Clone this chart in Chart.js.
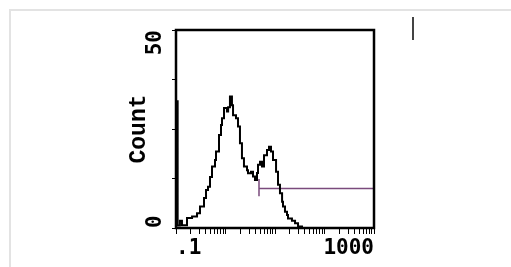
<!DOCTYPE html>
<html>
<head>
<meta charset="utf-8">
<script src="https://cdn.jsdelivr.net/npm/chart.js@4/dist/chart.umd.min.js"></script>
<style>
    body { margin: 0; background: #fff; }
    #wrap { position: relative; width: 511px; height: 267px; overflow: hidden; }
    #frame { position: absolute; left: 9px; top: 9px; width: 502px; height: 258px;
             border-left: 2px solid #e3e3e3; border-top: 2px solid #e3e3e3; }
    #cursor { position: absolute; left: 412px; top: 17px; width: 2px; height: 23px; background: #444; }
    #chart { position: absolute; left: 0; top: 0; }
</style>
</head>
<body>
<div id="wrap">
    <div id="frame"></div>
    <div id="cursor"></div>
    <canvas id="chart" width="511" height="267"></canvas>
</div>
<script>
// histogram bins: left edge of each bin (log intensity) and its count
const histX = [0.1, 0.108, 0.12, 0.132, 0.167, 0.211, 0.266, 0.305, 0.368, 0.404,
    0.443, 0.486, 0.534, 0.614, 0.643, 0.739, 0.811, 0.85, 0.933, 1.07,
    1.13, 1.23, 1.35, 1.42, 1.63, 1.79, 1.96, 2.15, 2.36, 2.72,
    2.85, 3.27, 3.59, 3.94, 4.33, 4.54, 4.98, 5.46, 6.0, 6.89,
    7.56, 8.3, 9.11, 10.5, 11.5, 12.6, 13.9, 14.5, 15.9, 17.5,
    18.3, 22.0, 25.4, 29.2, 35.1];
const histY = [32, 0.6, 1.8, 0.7, 2.5, 2.9, 3.7, 5.4, 7.6, 9.6,
    10.4, 12.9, 15.5, 17.2, 19.3, 23.5, 26, 27.7, 30.3, 29.4,
    30.5, 33.2, 31, 28.5, 27.7, 25.6, 21.4, 17.6, 15.5, 14.6,
    13.8, 14.2, 13, 12.1, 13.9, 16.0, 16.7, 15.5, 18.4, 19.7,
    20.5, 19.3, 17.2, 14.2, 10.9, 8.8, 6.6, 5.4, 4.1, 3.3,
    2.4, 1.8, 1.2, 0.4, 0];

// marker gate
const gateX = [4.75, 1000];
const gateLevel = 10;
const gateEnds = [12.4, 8];

// axes
const xMin = 0.1, xMax = 1000;
const yMin = 0, yMax = 50, yStep = 12.5;
const xDecades = [0.1, 1, 10, 100];
const xTickLabels = { 0.1: '.1', 1000: '1000' };
const yTickLabels = { 0: ' 0', 50: '50  ' };

const histData = histX.map((x, i) => ({ x: x, y: histY[i] }));
const gateData = [
    { x: gateX[0], y: gateEnds[0] }, { x: gateX[0], y: gateEnds[1] },
    { x: gateX[0], y: gateLevel }, { x: gateX[1], y: gateLevel },
    { x: gateX[1], y: gateEnds[0] }, { x: gateX[1], y: gateEnds[1] }
];

const frame = {
    id: 'frame',
    afterDatasetsDraw(chart) {
        const a = chart.chartArea, ctx = chart.ctx;
        ctx.save();
        ctx.strokeStyle = '#000';
        ctx.lineWidth = 2.5;
        ctx.strokeRect(a.left, a.top, a.right - a.left, a.bottom - a.top);
        ctx.restore();
    }
};

new Chart(document.getElementById('chart'), {
    type: 'line',
    data: {
        datasets: [{
            data: histData,
            borderColor: '#000',
            borderWidth: 2,
            stepped: true,
            pointRadius: 0,
            fill: false
        }, {
            data: gateData,
            borderColor: '#7a4a7c',
            borderWidth: 1.5,
            pointRadius: 0,
            fill: false
        }]
    },
    options: {
        responsive: false,
        animation: false,
        layout: { padding: { left: 120, top: 30, right: 137, bottom: 0 } },
        plugins: { legend: { display: false }, tooltip: { enabled: false } },
        scales: {
            x: {
                type: 'logarithmic',
                min: xMin,
                max: xMax,
                afterBuildTicks: scale => {
                    const t = [];
                    xDecades.forEach(d => { for (let k = 1; k < 10; k++) t.push({ value: +(d * k).toPrecision(3) }); });
                    t.push({ value: xMax });
                    scale.ticks = t;
                },
                afterFit: scale => { scale.height = 39; },
                border: { display: false },
                grid: { drawOnChartArea: false, drawTicks: true, tickLength: 6, tickColor: '#000', tickWidth: 1 },
                ticks: {
                    autoSkip: false,
                    maxRotation: 0,
                    align: 'inner',
                    padding: 2,
                    color: '#000',
                    font: { family: 'DejaVu Sans Mono', size: 21, weight: 'bold' },
                    callback: v => xTickLabels[v] || ''
                }
            },
            y: {
                min: yMin,
                max: yMax,
                afterFit: scale => { scale.width = 56; },
                border: { display: false },
                grid: { drawOnChartArea: false, drawTicks: true, tickLength: 4, tickColor: '#000', tickWidth: 1 },
                title: {
                    display: true,
                    text: 'Count',
                    color: '#000',
                    padding: { top: 5, bottom: 0 },
                    font: { family: 'Liberation Mono', size: 23, weight: 'bold' }
                },
                ticks: {
                    stepSize: yStep,
                    autoSkip: false,
                    minRotation: 90,
                    maxRotation: 90,
                    crossAlign: 'center',
                    padding: -9,
                    color: '#000',
                    font: { family: 'DejaVu Sans Mono', size: 21, weight: 'bold' },
                    callback: v => yTickLabels[v] || ''
                }
            }
        }
    },
    plugins: [frame]
});
</script>
</body>
</html>
